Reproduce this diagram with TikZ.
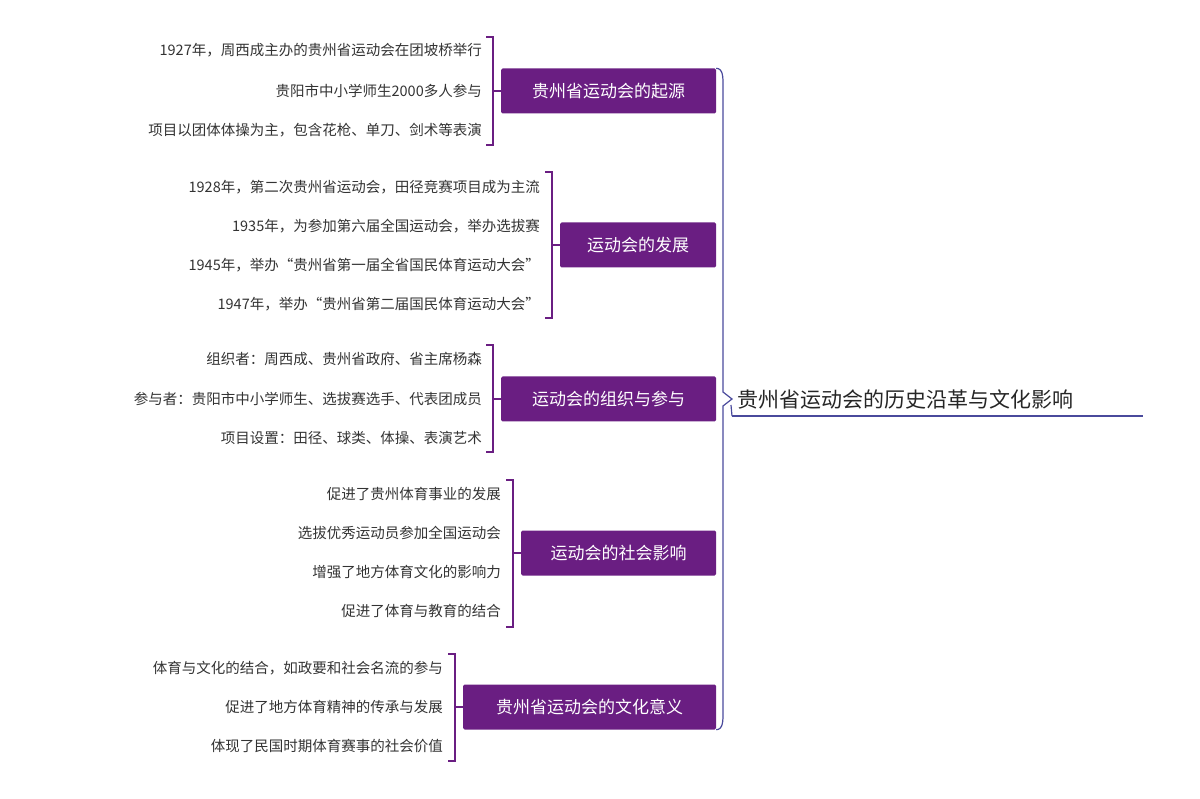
\documentclass[tikz,border=0pt]{standalone}
\usepackage{fontspec}
\setmainfont{Noto Sans CJK SC}
\begin{document}
\begin{tikzpicture}[x=1pt,y=-1pt,
  br/.style={fill=pur,draw=none,rounded corners=1.5pt,text=white,font=\fontsize{17}{20}\selectfont,minimum height=45pt,inner xsep=0pt},
  leaf/.style={anchor=east,font=\fontsize{14.5}{17}\selectfont,text=black!80,inner sep=0pt},
  lbr/.style={draw=pur,line width=1.3pt},
  mbr/.style={draw=blu,line width=1.2pt}]
\definecolor{pur}{HTML}{6A1E82}
\definecolor{blu}{HTML}{4A4A9C}
\useasboundingbox (0,0) rectangle (1200,799);
\node[anchor=west,font=\fontsize{21}{24}\selectfont,text=black!85,inner sep=0pt] (root) at (737,399) {贵州省运动会的历史沿革与文化影响};
\draw[mbr] (732,416) coordinate (u1) -- (1143,416) coordinate (u2);
% branches
\node[br,minimum width=215pt] (b1) at (608.5,91) {贵州省运动会的起源};
\node[br,minimum width=156pt] (b2) at (638,245) {运动会的发展};
\node[br,minimum width=215pt] (b3) at (608.5,399) {运动会的组织与参与};
\node[br,minimum width=195pt] (b4) at (618.5,553) {运动会的社会影响};
\node[br,minimum width=253pt] (b5) at (589.5,707) {贵州省运动会的文化意义};
% main brace
\draw[mbr] (b1.north east) to[out=0,in=90] (723,85) -- (723,392) -- (u1|-b3) -- (723,406) -- (723,713) to[out=-90,in=0] (b5.south east);
\draw[mbr] (731,405) -- (u1);
% leaves group 1
\node[leaf] (l11) at (482,50) {1927年，周西成主办的贵州省运动会在团坡桥举行};
\node[leaf] (l12) at (482,91) {贵阳市中小学师生2000多人参与};
\node[leaf] (l13) at (482,130) {项目以团体体操为主，包含花枪、单刀、剑术等表演};
\draw[lbr] (486,37) -- (493,37) -- (493,145) -- (486,145);
\draw[lbr] (493,91) -- (b1.west);
% group 2
\node[leaf] (l21) at (540,187) {1928年，第二次贵州省运动会，田径竞赛项目成为主流};
\node[leaf] (l22) at (540,226) {1935年，为参加第六届全国运动会，举办选拔赛};
\node[leaf] (l23) at (540,265) {1945年，举办“贵州省第一届全省国民体育运动大会”};
\node[leaf] (l24) at (540,304) {1947年，举办“贵州省第二届国民体育运动大会”};
\draw[lbr] (545,172) -- (552,172) -- (552,318) -- (545,318);
\draw[lbr] (552,245) -- (b2.west);
% group 3
\node[leaf] (l31) at (482,359) {组织者：周西成、贵州省政府、省主席杨森};
\node[leaf] (l32) at (482,399) {参与者：贵阳市中小学师生、选拔赛选手、代表团成员};
\node[leaf] (l33) at (482,438) {项目设置：田径、球类、体操、表演艺术};
\draw[lbr] (486,345) -- (493,345) -- (493,452) -- (486,452);
\draw[lbr] (493,399) -- (b3.west);
% group 4
\node[leaf] (l41) at (501,494) {促进了贵州体育事业的发展};
\node[leaf] (l42) at (501,533) {选拔优秀运动员参加全国运动会};
\node[leaf] (l43) at (501,572) {增强了地方体育文化的影响力};
\node[leaf] (l44) at (501,611) {促进了体育与教育的结合};
\draw[lbr] (506,480) -- (513,480) -- (513,627) -- (506,627);
\draw[lbr] (513,553) -- (b4.west);
% group 5
\node[leaf] (l51) at (443,668) {体育与文化的结合，如政要和社会名流的参与};
\node[leaf] (l52) at (443,707) {促进了地方体育精神的传承与发展};
\node[leaf] (l53) at (443,746) {体现了民国时期体育赛事的社会价值};
\draw[lbr] (448,654) -- (455,654) -- (455,761) -- (448,761);
\draw[lbr] (455,707) -- (b5.west);
\end{tikzpicture}
\end{document}
